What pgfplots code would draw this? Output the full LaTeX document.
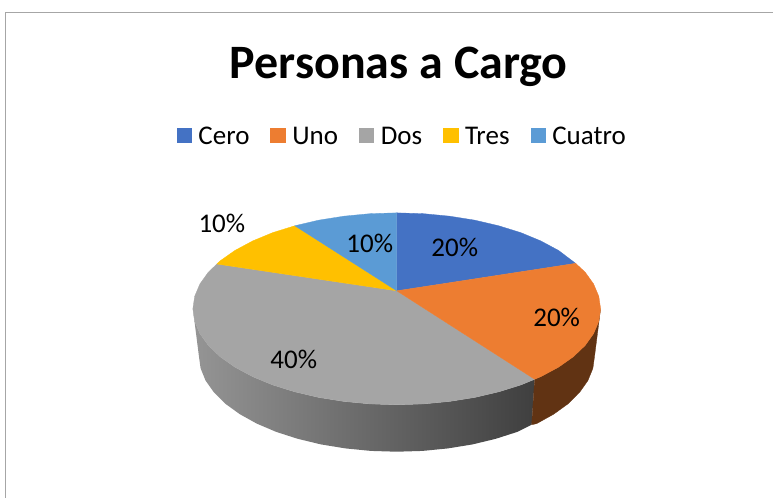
\documentclass[border=0pt]{standalone}
\usepackage{pgfplots}
\usepackage{fontspec}
\setmainfont{Carlito}
\pgfplotsset{compat=1.18}
\definecolor{cCero}{HTML}{4472C4}
\definecolor{cUno}{HTML}{ED7D31}
\definecolor{cDos}{HTML}{A5A5A5}
\definecolor{cTres}{HTML}{FFC000}
\definecolor{cCuatro}{HTML}{5B9BD5}
\definecolor{cBrown}{HTML}{613313}
\definecolor{cFrame}{HTML}{A6A6A6}
\definecolor{sL}{HTML}{959595}
\definecolor{sM}{HTML}{666666}
\definecolor{sR}{HTML}{3F3F3F}
\begin{document}
\begin{tikzpicture}[x=1pt,y=1pt]
\begin{axis}[
  scale only axis, width=773pt, height=498pt,
  xmin=0, xmax=773, ymin=0, ymax=498, y dir=reverse,
  hide axis, clip=false,
  legend columns=5,
  legend style={at={(0.5207,0.7249)}, anchor=center, draw=none, fill=none,
    font=\fontsize{27}{30}\selectfont,
    inner sep=0pt, outer sep=0pt,
    /tikz/every even column/.append style={column sep=19pt},
    /tikz/every odd column/.append style={column sep=5pt}},
  legend image code/.code={\fill[#1] (0pt,-5.7pt) rectangle (14.5pt,8.7pt);},
]
% page extent
\addplot[forget plot, draw=none] coordinates {(0,0) (773,498)};
% frame
\addplot[forget plot, cFrame, line width=1pt] coordinates {(6,498) (6,13) (773,13)};
% side walls
\addplot[forget plot, draw=none, left color=sL, middle color=sM, right color=sR] coordinates {
 (193,309) (194.8,321.5) (200,333.8) (208.5,345.7) (220.3,357) (235.1,367.4) (252.8,376.9) (272.8,385.2) (295,392.1) (318.9,397.7) (344.2,401.7) (370.4,404.2) (397,405) (423.6,404.2) (449.8,401.7) (475.1,397.7) (499,392.1) (521.2,385.2) (535,379.5)
 (532,425) (517.5,432.2) (496,439.1) (472.8,444.7) (448.2,448.7) (422.8,451.2) (397,452) (371.2,451.2) (345.8,448.7) (321.2,444.7) (298,439.1) (276.5,432.2) (257,423.9) (239.9,414.4) (225.5,404) (214.1,392.7) (205.7,380.8) (200.7,368.5) (199,356)} --cycle;
\addplot[forget plot, fill=cBrown, draw=cBrown, line width=0.3pt] coordinates {
 (601,309) (599.2,321.5) (594,333.8) (585.5,345.7) (573.7,357) (558.9,367.4) (541.2,376.9) (535,379.5)
 (532,425) (537,423.9) (554.1,414.4) (568.5,404) (579.9,392.7) (588.3,380.8) (593.3,368.5) (595,356)} --cycle;
% top slices
\addplot[fill=cDos, draw=cDos, line width=0.3pt, forget plot] coordinates {
 (397,291) (535,379.5) (521.2,385.2) (499,392.1) (475.1,397.7) (449.8,401.7) (423.6,404.2) (397,405) (370.4,404.2) (344.2,401.7) (318.9,397.7) (295,392.1) (272.8,385.2) (252.8,376.9) (235.1,367.4) (220.3,357) (208.5,345.7) (200,333.8) (194.8,321.5) (193,309) (194.8,296.5) (200,284.2) (208.5,272.3) (217,264.2)} --cycle;
\addplot[fill=cCero, draw=cCero, line width=0.3pt] coordinates {
 (397,291) (397,213) (423.6,213.8) (449.8,216.3) (475.1,220.3) (499,225.9) (521.2,232.8) (541.2,241.1) (558.9,250.6) (576,263.5)} --cycle;
\addlegendentry{Cero}
\addplot[fill=cUno, draw=cUno, line width=0.3pt] coordinates {
 (397,291) (576,263.5) (585.5,272.3) (594,284.2) (599.2,296.5) (601,309) (599.2,321.5) (594,333.8) (585.5,345.7) (573.7,357) (558.9,367.4) (541.2,376.9) (535,379.5)} --cycle;
\addlegendentry{Uno}
\addlegendimage{fill=cDos, draw=cDos}
\addlegendentry{Dos}
\addplot[fill=cTres, draw=cTres, line width=0.3pt] coordinates {
 (397,291) (217,264.2) (220.3,261) (235.1,250.6) (252.8,241.1) (272.8,232.8) (295,225.9)} --cycle;
\addlegendentry{Tres}
\addplot[fill=cCuatro, draw=cCuatro, line width=0.3pt] coordinates {
 (397,291) (295,225.9) (318.9,220.3) (344.2,216.3) (370.4,213.8) (397,213)} --cycle;
\addlegendentry{Cuatro}
% labels
\node[font=\fontsize{27}{30}\selectfont] at (axis cs:222,224) {10\%};
\node[font=\fontsize{27}{30}\selectfont] at (axis cs:370,244) {10\%};
\node[font=\fontsize{27}{30}\selectfont] at (axis cs:455,248) {20\%};
\node[font=\fontsize{27}{30}\selectfont] at (axis cs:557,318) {20\%};
\node[font=\fontsize{27}{30}\selectfont] at (axis cs:294,360) {40\%};
\node[font=\fontsize{48}{52}\selectfont\bfseries] at (axis cs:399,67) {Personas a Cargo};
\end{axis}
\end{tikzpicture}
\end{document}
